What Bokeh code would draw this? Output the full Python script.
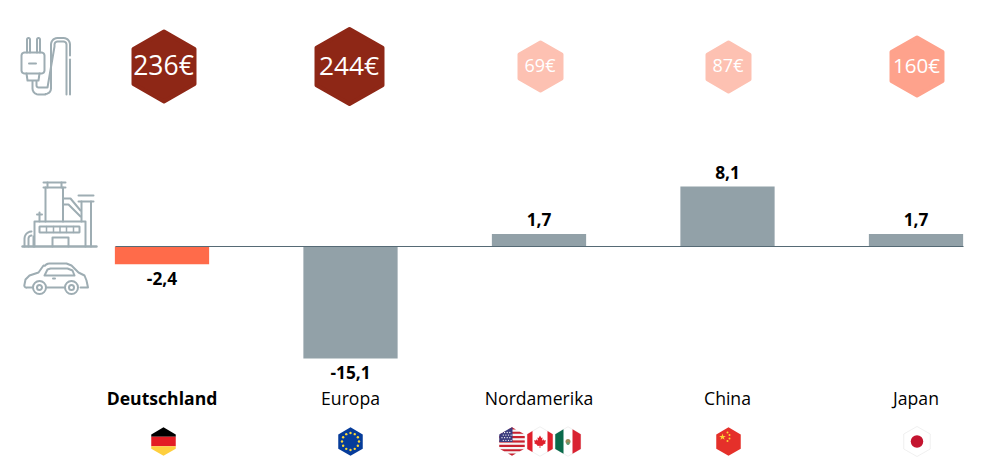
import math
from bokeh.plotting import figure
from bokeh.models import Range1d
from bokeh.core.properties import value
from bokeh.embed import file_html
from bokeh.resources import INLINE

# ---- data ----
regions = ["Deutschland", "Europa", "Nordamerika", "China", "Japan"]
balance = [-2.4, -15.1, 1.7, 8.1, 1.7]
balance_labels = ["-2,4", "-15,1", "1,7", "8,1", "1,7"]
prices = [236, 244, 69, 87, 160]
price_labels = ["236€", "244€", "69€", "87€", "160€"]

# ---- styles ----
bar_colors = ["#ff6b4a", "#92a1a8", "#92a1a8", "#92a1a8", "#92a1a8"]
badge_colors = ["#8e2716", "#8e2716", "#fdc1b2", "#fdc1b2", "#fea28c"]
badge_cx = [163.5, 349, 540, 728, 916.5]
badge_cy = [66, 66, 66, 66.5, 66]
badge_w = [65, 70, 46, 46, 55]
badge_h = [74, 79, 52, 53, 62]
badge_fs = ["26.5px", "26.3px", "18px", "18px", "20.5px"]
ICON = "#9eadb3"
FONT = value("Open Sans")

W, H = 988, 457
PX = 188.5  # px between regions
p = figure(width=W, height=H, output_backend="svg", toolbar_location=None,
           x_range=Range1d((0 - 161.5) / PX, (W - 161.5) / PX),
           y_range=Range1d((H - 246) / -7.417, 246 / 7.417),
           min_border=0, outline_line_color=None, background_fill_color="white",
           border_fill_color="white")
p.axis.visible = False
p.grid.visible = False
p.extra_x_ranges = {"px": Range1d(0, W)}
p.extra_y_ranges = {"px": Range1d(H, 0)}
PR = dict(x_range_name="px", y_range_name="px")


def hexagon(cx, cy, w, h):
    return [(cx, cy - h / 2), (cx + w / 2, cy - h / 4), (cx + w / 2, cy + h / 4),
            (cx, cy + h / 2), (cx - w / 2, cy + h / 4), (cx - w / 2, cy - h / 4)]


def clip(poly, x0=-1e9, x1=1e9, y0=-1e9, y1=1e9):
    def half(pts, inside, cross):
        out = []
        for i in range(len(pts)):
            a, b = pts[i], pts[(i + 1) % len(pts)]
            if inside(a):
                out.append(a)
            if inside(a) != inside(b):
                out.append(cross(a, b))
        return out
    def cx(v):
        return lambda a, b: (v, a[1] + (b[1] - a[1]) * (v - a[0]) / (b[0] - a[0]))
    def cy(v):
        return lambda a, b: (a[0] + (b[0] - a[0]) * (v - a[1]) / (b[1] - a[1]), v)
    pts = half(poly, lambda q: q[0] >= x0, cx(x0))
    pts = half(pts, lambda q: q[0] <= x1, cx(x1))
    pts = half(pts, lambda q: q[1] >= y0, cy(y0))
    pts = half(pts, lambda q: q[1] <= y1, cy(y1))
    return pts


def fill(poly, color, **kw):
    if poly:
        p.patch([q[0] for q in poly], [q[1] for q in poly], fill_color=color,
                line_color=kw.get("line", None), line_width=kw.get("lw", 0.6), **PR)


def line(pts, color=ICON, w=2):
    p.line([q[0] for q in pts], [q[1] for q in pts], line_color=color, line_width=w,
           line_join="round", line_cap="round", **PR)


def arc(cx, cy, r, a0, a1, n=8):
    return [(cx + r * math.cos(math.radians(a0 + (a1 - a0) * i / n)),
             cy + r * math.sin(math.radians(a0 + (a1 - a0) * i / n))) for i in range(n + 1)]


def ring(cx, cy, size, color=ICON, w=2, fc=None):
    p.scatter([cx], [cy], size=size, marker="circle", fill_color=fc, line_color=color, line_width=w, **PR)


# ---- bars ----
xs = list(range(len(regions)))
p.vbar(x=xs, width=0.5, bottom=[min(v, 0) for v in balance], top=[max(v, 0) for v in balance],
       fill_color=bar_colors, line_color=None)
p.line([115, 963], [246, 246], line_color="#566a75", line_width=1, **PR)

pos = [i for i, v in enumerate(balance) if v >= 0]
neg = [i for i, v in enumerate(balance) if v < 0]
p.text([xs[i] for i in pos], [balance[i] for i in pos], text=[balance_labels[i] for i in pos],
       text_font=FONT, text_font_size="17.3px", text_font_style="bold", text_color="#000000",
       text_align="center", text_baseline="middle", y_offset=-14)
p.text([xs[i] for i in neg], [balance[i] for i in neg], text=[balance_labels[i] for i in neg],
       text_font=FONT, text_font_size="17.3px", text_font_style="bold", text_color="#000000",
       text_align="center", text_baseline="middle", y_offset=14)

# ---- category labels ----
for i, name in enumerate(regions):
    p.text([i], [397], text=[name], text_font=FONT, text_font_size="17.6px",
           text_font_style="bold" if i == 0 else "normal", text_color="#000000",
           text_align="center", text_baseline="middle", y_range_name="px")

# ---- price badges ----
for cx, cy, w, h, c, t, fs in zip(badge_cx, badge_cy, badge_w, badge_h, badge_colors, price_labels, badge_fs):
    hx = hexagon(cx, cy, w - 4, h - 4)
    p.patch([q[0] for q in hx], [q[1] for q in hx], fill_color=c, line_color=c, line_width=4,
            line_join="round", **PR)
    p.text([cx - 0.5], [cy - 2], text=[t], text_font=FONT, text_font_size=fs, text_color="#ffffff",
           text_align="center", text_baseline="middle", **PR)

# ---- plug icon ----
for x in (26.5, 36.5):
    line([(x, 52), (x, 39)] + arc(x + 1.5, 39, 1.5, 180, 360) + [(x + 3, 52)])
line([(24, 52), (41, 52)] + arc(41, 55, 3, -90, 0, 4) + [(44, 70)] + arc(41, 70, 3, 0, 90, 4)
     + [(24, 73)] + arc(24, 70, 3, 90, 180, 4) + [(21, 55)] + arc(24, 55, 3, 180, 270, 4))
line([(28.5, 63), (35.5, 63)])
line([(26, 73), (27, 80), (38, 80), (39, 73)])
line([(32, 81), (32, 88)] + arc(38, 88, 6, 180, 90, 5) + [(45, 94)] + arc(45, 88, 5.5, 90, 0, 5)
     + [(50.5, 44)] + arc(57, 44, 6.5, 180, 270, 6) + [(63, 37.5)] + arc(63, 44, 6.5, 270, 360, 6) + [(69.5, 55)])
line([(36, 81), (36, 85)] + arc(38, 85, 2, 180, 90, 4) + [(47, 87)]
     + [(54, 46)] + arc(57, 44, 3, 180, 270, 4) + [(63, 41)] + arc(63, 44, 3, 270, 360, 4) + [(66, 94)])
line([(69.5, 59), (69.5, 94)])

# ---- factory icon ----
line([(22, 246), (96, 246)], w=2.4)
line([(34, 246), (34, 221), (85, 221), (85, 246)])
p.quad(left=[39], right=[79], top=[226], bottom=[232], fill_color=None, line_color=ICON, line_width=2, **PR)
for x in (46, 53, 59.5, 66, 73):
    line([(x, 226), (x, 232)], w=1.5)
line([(52, 246), (52, 237), (68, 237), (68, 246)])
line([(45, 221), (45, 187)]); line([(62.5, 187), (62.5, 221)])
line([(43, 182), (65, 182)]); line([(43, 187), (65, 187)]); line([(47, 182), (47, 187)]); line([(61, 182), (61, 187)])
line([(81, 221), (81, 201)]); line([(90.5, 201), (90.5, 246)])
line([(78, 195), (93, 195)]); line([(78, 201), (93, 201)])
line([(63, 198), (70, 198), (80, 210)]); line([(63, 204), (68, 204), (80, 216)])
line([(39, 221), (39, 212)]); line([(36.5, 214), (41.5, 214)])
line([(24, 246), (24, 238)] + arc(31, 238, 7, 180, 270, 5))
line([(28, 246), (28, 238)] + arc(31, 238, 3, 180, 270, 4))
line([(33, 246), (33, 236)])

# ---- car icon ----
line([(32, 287), (26, 287)] + arc(26, 285, 2.2, 90, 180, 3) + [(25, 279), (29, 275), (38, 272), (43, 265)]
     + arc(49, 269, 6, 220, 270, 3) + [(66, 263), (71, 265), (78, 272), (84, 275), (86, 280), (87.5, 287), (80, 287)])
line([(46, 287), (64, 287)])
line([(44, 275), (47, 269), (50, 268), (67, 268), (72, 270), (74, 275), (44, 275)])
line([(52.5, 278), (54.5, 278)])
for cx in (39, 71):
    ring(cx, 287, 13, fc="white")
    ring(cx, 287, 5)

# ---- flags ----
FY = 441
FX = [163, 350, 511.5, 539.5, 567.5, 728, 916.5]
hw, hh = 24.5, 28.5

# Germany
g = hexagon(FX[0], FY, hw, hh)
fill(clip(g, y1=FY - 4.7), "#000000")
fill(clip(g, y0=FY - 4.7, y1=FY + 4.7), "#e31d24")
fill(clip(g, y0=FY + 4.7), "#fecf3e")

# EU
g = hexagon(FX[1], FY, hw, hh)
fill(g, "#063c9a")
p.scatter([FX[1] + 8.5 * math.cos(math.radians(30 * i)) for i in range(12)],
          [FY + 8.5 * math.sin(math.radians(30 * i)) for i in range(12)],
          size=2.4, marker="circle", fill_color="#fdd835", line_color=None, **PR)

# USA
g = hexagon(FX[2], FY, hw + 1, hh)
fill(g, "#f4f4f4")
sh = hh / 13
for i in range(0, 13, 2):
    fill(clip(g, y0=FY - hh / 2 + i * sh, y1=FY - hh / 2 + (i + 1) * sh), "#c8212f")
can = clip(g, x1=FX[2] + 0.5, y1=FY + 0.5)
fill(can, "#3b3b7e")
p.scatter([FX[2] - 10 + 2.6 * a + (1.3 if b % 2 else 0) for b in range(4) for a in range(4)],
          [FY - 9 + 2.6 * b for b in range(4) for a in range(4)],
          size=1.3, marker="circle", fill_color="#ffffff", line_color=None, **PR)

# Canada
g = hexagon(FX[3], FY, hw + 1, hh + 1)
fill(g, "#ffffff", line="#e6e6e6")
fill(clip(g, x1=FX[3] - 7.5), "#e0202c")
fill(clip(g, x0=FX[3] + 7.5), "#e0202c")
cx3 = FX[3]
leaf = [(0, -6), (1.4, -3.4), (2.6, -4), (2, -0.8), (3.4, -2.2), (4, -0.9), (6, -1.2), (5.2, 1), (5.8, 1.7),
        (2.6, 3.6), (2.8, 4.6), (0.4, 4.2), (0.4, 6.5), (-0.4, 6.5), (-0.4, 4.2), (-2.8, 4.6), (-2.6, 3.6),
        (-5.8, 1.7), (-5.2, 1), (-6, -1.2), (-4, -0.9), (-3.4, -2.2), (-2, -0.8), (-2.6, -4), (-1.4, -3.4)]
fill([(cx3 + a, FY + b) for a, b in leaf], "#e0202c")

# Mexico
g = hexagon(FX[4], FY, hw + 1, hh + 1)
fill(g, "#ffffff", line="#e6e6e6")
fill(clip(g, x1=FX[4] - 4.5), "#0a6a4b")
fill(clip(g, x0=FX[4] + 4.5), "#d92231")
p.scatter([FX[4]], [FY], size=5, marker="circle", fill_color="#9b8a5a", line_color=None, **PR)
p.scatter([FX[4]], [FY + 2], size=3, marker="circle", fill_color="#5f9a72", line_color=None, **PR)

# China
g = hexagon(FX[5], FY, hw, hh)
fill(g, "#e5302a")
p.scatter([FX[5] - 6], [FY - 4.5], size=7, marker="star", fill_color="#fbd335", line_color=None, **PR)
p.scatter([FX[5] - 1, FX[5] + 1, FX[5] + 1, FX[5] - 1], [FY - 9, FY - 6.5, FY - 3, FY - 0.5],
          size=2, marker="circle", fill_color="#fbd335", line_color=None, **PR)

# Japan
g = hexagon(FX[6], FY, hw + 2, hh + 1.5)
fill(g, "#ffffff", line="#e6e6e6")
p.scatter([FX[6]], [FY], size=12.5, marker="circle", fill_color="#c4142f", line_color=None, **PR)

open("out.html", "w").write(file_html(p, INLINE))
